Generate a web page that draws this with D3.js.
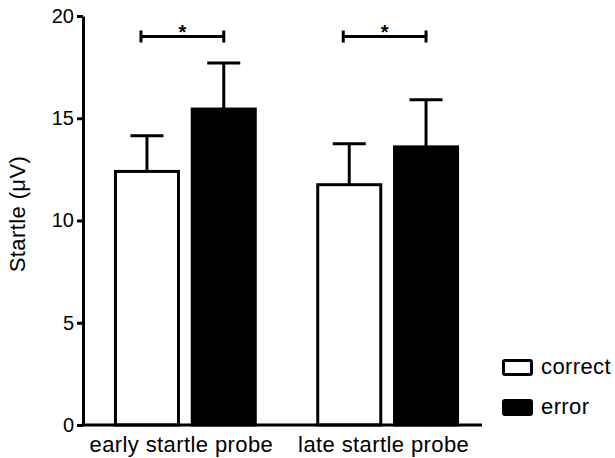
<!DOCTYPE html>
<html>
<head>
<meta charset="utf-8">
<script src="https://cdn.jsdelivr.net/npm/d3@7"></script>
<style>
  body { margin: 0; background: #fff; }
  text { font-family: "Liberation Sans", Arial, sans-serif; fill: #000; }
</style>
</head>
<body>
<div id="chart"></div>
<script>
// Data
const groups = ["early startle probe", "late startle probe"];
const conditions = ["correct", "error"];
const means = [[12.4, 15.45], [11.75, 13.6]];   // [group][condition]
const sems = [[1.75, 2.25], [2.0, 2.3]];
const yTicks = [0, 5, 10, 15, 20];
const sigLevel = [19, 19];

const width = 615, height = 458;
const margin = { top: 16, left: 83, bottom: 33 };

const svg = d3.select("#chart")
    .append("svg")
    .attr("width", width)
    .attr("height", height);

// Scales
const y = d3.scaleLinear()
    .domain([0, 20])
    .range([height - margin.bottom, margin.top]);

const x0 = d3.scaleBand()
    .domain(groups)
    .range([margin.left, 490])
    .paddingInner(0.294)
    .paddingOuter(0.153);

const x1 = d3.scaleBand()
    .domain(conditions)
    .range([0, x0.bandwidth()])
    .paddingInner(0.14);

const fill = d => d === "correct" ? "#fff" : "#000";

// Y axis
const yAxis = svg.append("g")
    .attr("transform", `translate(${margin.left},0)`)
    .call(d3.axisLeft(y).tickValues(yTicks).tickSize(6).tickPadding(3).tickSizeOuter(0));
yAxis.select(".domain").attr("stroke-width", 3);
yAxis.selectAll(".tick line").attr("stroke-width", 3);
yAxis.selectAll(".tick text")
    .style("font-size", "20px")
    .attr("font-family", null);

svg.append("text")
    .attr("transform", `translate(25,214) rotate(-90)`)
    .attr("text-anchor", "middle")
    .style("font-size", "22px")
    .style("letter-spacing", "0.4px")
    .text("Startle (\u03BCV)");

// Bars
const gGroups = svg.selectAll("g.group")
    .data(groups)
    .enter()
    .append("g")
    .attr("class", "group")
    .attr("transform", d => `translate(${x0(d)},0)`);

const cells = gGroups.selectAll("g.cell")
    .data((g, i) => conditions.map((c, j) => ({ c, m: means[i][j], s: sems[i][j] })))
    .enter()
    .append("g");

cells.append("rect")
    .attr("x", d => x1(d.c) + 1.5)
    .attr("y", d => y(d.m))
    .attr("width", x1.bandwidth() - 3)
    .attr("height", d => y(0) - y(d.m))
    .attr("fill", d => fill(d.c))
    .attr("stroke", "#000")
    .attr("stroke-width", 3);

// Error bars (upper only)
const capW = x1.bandwidth() / 2;
cells.append("line")
    .attr("x1", d => x1(d.c) + x1.bandwidth() / 2)
    .attr("x2", d => x1(d.c) + x1.bandwidth() / 2)
    .attr("y1", d => y(d.m))
    .attr("y2", d => y(d.m + d.s))
    .attr("stroke", "#000")
    .attr("stroke-width", 3);
cells.append("line")
    .attr("x1", d => x1(d.c) + x1.bandwidth() / 2 - capW / 2)
    .attr("x2", d => x1(d.c) + x1.bandwidth() / 2 + capW / 2)
    .attr("y1", d => y(d.m + d.s))
    .attr("y2", d => y(d.m + d.s))
    .attr("stroke", "#000")
    .attr("stroke-width", 3);

// X axis
svg.append("line")
    .attr("x1", margin.left - 1.5)
    .attr("x2", 482)
    .attr("y1", y(0))
    .attr("y2", y(0))
    .attr("stroke", "#000")
    .attr("stroke-width", 3);

svg.selectAll("text.xlabel")
    .data(groups)
    .enter()
    .append("text")
    .attr("class", "xlabel")
    .attr("x", d => x0(d) + x0.bandwidth() / 2 - 4)
    .attr("y", y(0) + 27)
    .attr("text-anchor", "middle")
    .style("font-size", "22px")
    .style("letter-spacing", "0.4px")
    .text(d => d);

// Significance brackets
const sig = svg.selectAll("g.sig")
    .data(groups)
    .enter()
    .append("g")
    .attr("transform", d => `translate(${x0(d)},0)`);

const bx1 = x1("correct") + x1.bandwidth() / 2 - 6;
const bx2 = x1("error") + x1.bandwidth() / 2;
sig.append("path")
    .attr("d", (d, i) => {
        const yy = y(sigLevel[i]);
        return `M${bx1},${yy - 6}V${yy + 6}M${bx1},${yy}H${bx2}M${bx2},${yy - 6}V${yy + 6}`;
    })
    .attr("fill", "none")
    .attr("stroke", "#000")
    .attr("stroke-width", 3);
sig.append("text")
    .attr("x", (bx1 + bx2) / 2)
    .attr("y", (d, i) => y(sigLevel[i]) + 3)
    .attr("text-anchor", "middle")
    .style("font-size", "20px")
    .style("font-weight", "bold")
    .text("*");

// Legend
const legend = svg.selectAll("g.legend")
    .data(conditions)
    .enter()
    .append("g")
    .attr("transform", (d, i) => `translate(502,${359 + i * 40})`);
legend.append("rect")
    .attr("x", 1.5)
    .attr("y", 1.5)
    .attr("width", 28)
    .attr("height", 14)
    .attr("rx", 1.5)
    .attr("fill", d => fill(d))
    .attr("stroke", "#000")
    .attr("stroke-width", 3);
legend.append("text")
    .attr("x", 39)
    .attr("y", 15)
    .style("font-size", "22px")
    .style("letter-spacing", "0.4px")
    .text(d => d);
</script>
</body>
</html>
